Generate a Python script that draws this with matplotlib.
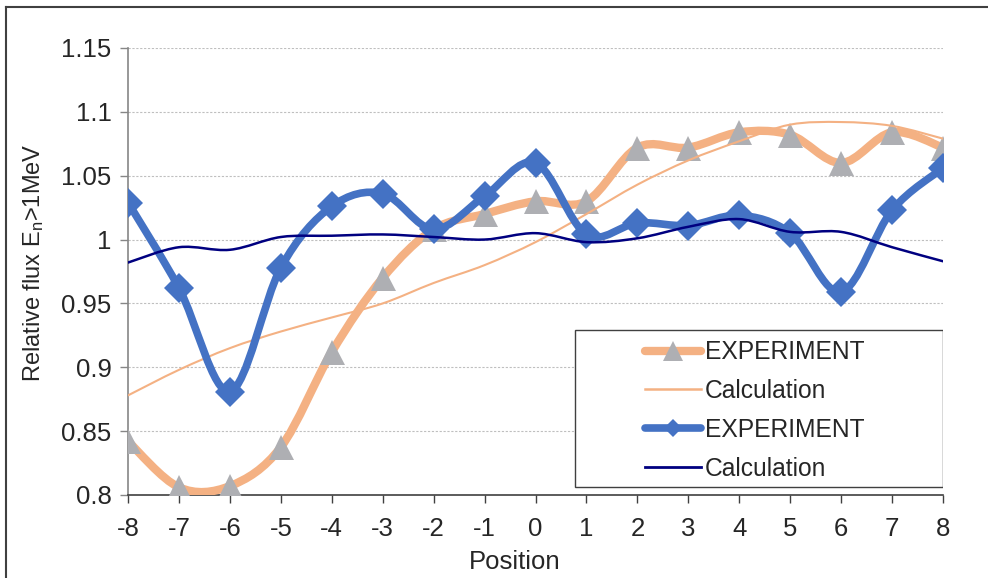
import matplotlib

matplotlib.use("Agg")
import matplotlib.pyplot as plt
import numpy as np
from matplotlib.lines import Line2D
from matplotlib.patches import PathPatch, Rectangle
from matplotlib.path import Path

positions = list(range(-8, 9))

exp_a = [0.842, 0.806, 0.807, 0.8375, 0.912, 0.970, 1.008, 1.020, 1.030,
         1.030, 1.072, 1.072, 1.084, 1.082, 1.060, 1.084, 1.072]
calc_a = [0.878, 0.898, 0.915, 0.928, 0.939, 0.950, 0.966, 0.980, 0.998,
          1.020, 1.043, 1.062, 1.077, 1.090, 1.092, 1.089, 1.079]
exp_b = [1.029, 0.962, 0.881, 0.978, 1.026, 1.036, 1.008, 1.034, 1.060,
         1.004, 1.013, 1.011, 1.019, 1.005, 0.959, 1.023, 1.056]
calc_b = [0.982, 0.994, 0.992, 1.002, 1.003, 1.004, 1.002, 1.000, 1.005,
          0.998, 1.001, 1.010, 1.016, 1.006, 1.006, 0.994, 0.983]

labels = ["EXPERIMENT", "Calculation", "EXPERIMENT", "Calculation"]

ORANGE = "#F4B183"
GRAY = "#AEAFB3"
BLUE = "#4472C4"
NAVY = "#000080"
TEXT = "#262626"

plt.rcParams["font.family"] = ["Liberation Sans", "DejaVu Sans"]
plt.rcParams["mathtext.fontset"] = "custom"
plt.rcParams["mathtext.rm"] = "Liberation Sans"
plt.rcParams["mathtext.it"] = "Liberation Sans"
plt.rcParams["axes.unicode_minus"] = False


def smooth_path(xs, ys):
    # Excel-style smoothed line: cubic Bezier through each point (Catmull-Rom tangents)
    pts = np.column_stack([xs, ys]).astype(float)
    n = len(pts)
    verts = [pts[0]]
    codes = [Path.MOVETO]
    for i in range(n - 1):
        p0 = pts[max(i - 1, 0)]
        p1 = pts[i]
        p2 = pts[i + 1]
        p3 = pts[min(i + 2, n - 1)]
        verts += [p1 + (p2 - p0) / 6.0, p2 - (p3 - p1) / 6.0, p2]
        codes += [Path.CURVE4, Path.CURVE4, Path.CURVE4]
    return Path(verts, codes)


def add_curve(ax, xs, ys, color, width, zorder):
    patch = PathPatch(smooth_path(xs, ys), facecolor="none", edgecolor=color,
                      linewidth=width, capstyle="round", joinstyle="round", zorder=zorder)
    ax.add_patch(patch)


fig = plt.figure(figsize=(9.88, 5.78), dpi=100)
ax = fig.add_axes([0.1296, 0.1436, 0.8249, 0.7734])

add_curve(ax, positions, exp_a, ORANGE, 6.0, 3)
ax.plot(positions, exp_a, linestyle="none", marker="^", markersize=18,
        color=GRAY, markeredgewidth=0, zorder=4)
add_curve(ax, positions, calc_a, ORANGE, 1.5, 5)
add_curve(ax, positions, exp_b, BLUE, 5.5, 6)
ax.plot(positions, exp_b, linestyle="none", marker="D", markersize=15,
        color=BLUE, markeredgewidth=0, zorder=7)
add_curve(ax, positions, calc_b, NAVY, 1.8, 8)

ax.set_xlim(-8, 8)
ax.set_ylim(0.8, 1.15)
ax.set_xticks(positions)
ax.set_yticks([0.8, 0.85, 0.9, 0.95, 1.0, 1.05, 1.1, 1.15])
ax.set_yticklabels(["0.8", "0.85", "0.9", "0.95", "1", "1.05", "1.1", "1.15"])
ax.grid(axis="y", color="#BFBFBF", linestyle=(0, (2, 1.5)), linewidth=0.8)
ax.set_axisbelow(True)

for side in ("top", "right"):
    ax.spines[side].set_visible(False)
ax.spines["left"].set_color("#868686")
ax.spines["left"].set_linewidth(1.2)
ax.spines["bottom"].set_color("#404040")
ax.spines["bottom"].set_linewidth(1.2)
ax.tick_params(axis="y", direction="out", length=6, width=1.0, color="#868686",
               labelsize=18.5, labelcolor=TEXT, pad=6)
ax.tick_params(axis="x", direction="out", length=6, width=1.0, color="#404040",
               labelsize=18.5, labelcolor=TEXT, pad=10)

ax.set_xlabel("Position", fontsize=18.5, color=TEXT, labelpad=6, x=0.475)
ax.set_ylabel(r"Relative flux E$_\mathrm{n}$>1MeV", fontsize=17, color=TEXT,
              labelpad=11, y=0.519)

# legend box drawn by hand so it matches the wide Excel frame
ax.add_patch(Rectangle((0.548, 0.018), 0.452, 0.351, transform=ax.transAxes,
                       facecolor="white", edgecolor="#404040", linewidth=1.0, zorder=9))
handles = [
    Line2D([], [], color=ORANGE, linewidth=6.0, solid_capstyle="round",
           marker="^", markersize=14, markerfacecolor=GRAY, markeredgewidth=0),
    Line2D([], [], color=ORANGE, linewidth=1.8),
    Line2D([], [], color=BLUE, linewidth=5.5, solid_capstyle="round",
           marker="D", markersize=9, markerfacecolor=BLUE, markeredgewidth=0),
    Line2D([], [], color=NAVY, linewidth=2.0),
]
leg = ax.legend(handles, labels, loc="upper left", bbox_to_anchor=(0.622, 0.368),
                frameon=False, fontsize=17.7, handlelength=2.3, handletextpad=0.15,
                labelspacing=0.6, borderaxespad=0)
leg.set_zorder(10)
for t in leg.get_texts():
    t.set_color(TEXT)

# outer chart frame (top and left edges visible)
fig.add_artist(Line2D([6 / 988, 1.0], [1 - 7 / 578, 1 - 7 / 578],
                      color="#404040", linewidth=1.5))
fig.add_artist(Line2D([6 / 988, 6 / 988], [0.0, 1 - 7 / 578],
                      color="#404040", linewidth=1.5))

fig.savefig("out.png", dpi=100)
